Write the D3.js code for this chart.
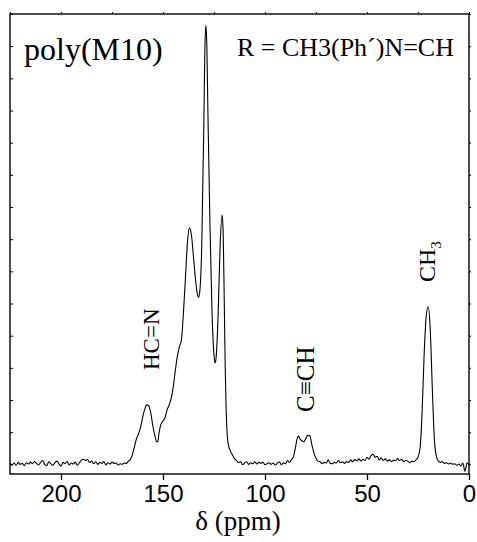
<!DOCTYPE html>
<html>
<head>
<meta charset="utf-8">
<script src="https://d3js.org/d3.v7.min.js"></script>
<style>
  body { margin: 0; background: #fff; }
  .serif { font-family: "Liberation Serif", "Times New Roman", serif; }
  .sans { font-family: "Liberation Sans", Arial, sans-serif; }
</style>
</head>
<body>
<svg id="chart" width="477" height="542"></svg>
<script>
// chemical shift (ppm), high to low
var shift = [
  225,224,223,222,221,220,219,218,217,216,215,214,213,212,211,210,209,208,207,206,
  205,204,203,202,201,200,199,198,197,196,195,194,193,192,191,190,189,188,187,186,
  185,184,183,182,181,180,179,178,177,176,175,174,173,172,171,170,169,168,167,166,
  165,164,163,162,161,160,159,158,157,156,155,154,153,152.5,152,151,150,149,148,147,
  146,145,144,143,142,141,140,139,138,137,136,135,134,133,132.5,132,131,130,129.5,129,
  128.5,128,127,126,125,124.5,124,123,122,121,120.5,120,119.5,119,118.5,118,117,116,115,114,
  113,112,111,110,109,108,107,106,105,104,103,102,101,100,99,98,97,96,95,94,
  93,92,91,90,89,88,87,86,85,84,83.5,83,82,81,80,79,78,77,76,75,
  74,73,72,71,70,69,68,67,66,65,64,63,62,61,60,59,58,57,56,55,
  54,53,52,51,50,49,48,47,46,45,44,43,42,41,40,39,38,37,36,35,
  34,33,32,31,30,29,28,27,26,25,24,23,22,21,20,19,18,17,16,15,
  14,13,12,11,10,9,8,7,6,5,4,3,2,1.5,1,0
];
// intensity (arbitrary units, one unit per y tick)
var intensity = [
  0.05,-0.02,0.04,-0.03,0.06,0.00,0.03,-0.04,0.05,0.01,0.07,0.02,0.09,0.03,-0.02,0.06,0.12,0.00,-0.04,0.08,
  0.02,-0.03,0.05,0.10,0.01,-0.05,0.06,0.02,0.09,-0.02,0.04,0.01,0.07,-0.03,0.05,0.13,0.16,0.12,0.15,0.06,
  0.10,0.02,0.08,0.00,0.06,0.03,0.09,-0.02,0.05,0.01,0.07,0.03,0.04,-0.02,0.02,0.00,0.04,0.03,0.10,0.15,
  0.30,0.55,0.80,0.95,1.15,1.45,1.70,1.85,1.82,1.60,1.20,0.90,0.70,0.72,0.95,1.25,1.35,1.45,1.70,1.85,
  2.05,2.40,2.90,3.35,3.65,3.85,4.70,5.80,6.90,7.35,7.10,6.40,5.70,5.25,5.20,5.35,6.80,10.5,12.8,13.65,
  13.0,11.0,7.5,4.8,3.4,3.15,3.3,4.6,6.8,7.75,7.2,5.2,3.0,1.6,0.9,0.62,0.42,0.30,0.18,0.12,
  0.05,0.09,-0.01,0.04,0.08,0.00,0.05,0.02,0.08,0.01,0.06,0.03,0.07,-0.01,0.02,0.05,0.00,0.04,-0.02,0.03,
  0.08,-0.01,0.05,0.02,0.12,0.06,0.15,0.25,0.55,0.85,0.88,0.80,0.74,0.70,0.80,0.90,0.88,0.60,0.35,0.18,
  0.10,0.08,0.02,0.06,0.04,0.14,0.03,0.02,0.06,0.04,0.12,0.05,0.08,0.03,0.09,0.06,0.14,0.08,0.15,0.11,
  0.17,0.10,0.16,0.12,0.22,0.16,0.27,0.31,0.22,0.25,0.14,0.20,0.12,0.17,0.10,0.14,0.09,0.13,0.11,0.18,
  0.12,0.16,0.08,0.12,0.10,0.05,0.10,0.08,0.14,0.22,0.50,1.6,3.4,4.6,4.9,4.2,2.4,0.8,0.25,0.10,
  0.06,0.08,0.03,0.05,0.01,0.04,0.00,0.02,-0.03,0.01,-0.05,0.04,-0.22,-0.10,0.05,-0.03
];
var xMajor = [200, 150, 100, 50, 0];
var xMinor = [225, 175, 125, 75, 25];
var yTicks = d3.range(0, 15);

var svg = d3.select("#chart");
var pl = 10, pr = 469, pt = 14, pb = 474;

var x = d3.scaleLinear().domain([225, 0]).range([pl, pr]);
var y = d3.scaleLinear().domain([-0.3, 14]).range([pb, pt]);

var data = shift.map(function(s, i) { return [s, intensity[i]]; });

var line = d3.line()
  .x(function(d) { return x(d[0]); })
  .y(function(d) { return y(d[1]); })
  .curve(d3.curveMonotoneX);

svg.append("path")
  .datum(data)
  .attr("d", line)
  .attr("fill", "none")
  .attr("stroke", "#000")
  .attr("stroke-width", 1.1);

// frame
svg.append("rect")
  .attr("x", pl).attr("y", pt)
  .attr("width", pr - pl).attr("height", pb - pt)
  .attr("fill", "none").attr("stroke", "#000").attr("stroke-width", 1.4);

// bottom axis
var bx = svg.append("g").attr("transform", "translate(0," + pb + ")");
bx.call(d3.axisBottom(x).tickValues(xMinor).tickSize(3).tickFormat(""));
bx.call(d3.axisBottom(x).tickValues(xMajor).tickSize(6).tickPadding(5).tickFormat(d3.format("d")));
bx.select(".domain").remove();
bx.selectAll("line").attr("stroke-width", 1.3);
bx.selectAll("text")
  .attr("class", "sans")
  .style("font-size", "24px")
  .attr("fill", "#000");

// top axis
var tx = svg.append("g").attr("transform", "translate(0," + pt + ")");
tx.call(d3.axisTop(x).tickValues(xMajor.concat(xMinor)).tickSize(2).tickFormat(""));
tx.select(".domain").remove();

// left and right axes
var ly = svg.append("g").attr("transform", "translate(" + pl + ",0)");
ly.call(d3.axisRight(y).tickValues(yTicks).tickSize(3).tickFormat(""));
ly.select(".domain").remove();
var ry = svg.append("g").attr("transform", "translate(" + pr + ",0)");
ry.call(d3.axisRight(y).tickValues(yTicks).tickSize(2).tickFormat(""));
ry.select(".domain").remove();

// axis title
svg.append("text")
  .attr("class", "serif")
  .attr("x", 238).attr("y", 530)
  .attr("text-anchor", "middle")
  .style("font-size", "27px")
  .text("δ (ppm)");

// corner labels
svg.append("text")
  .attr("class", "serif")
  .attr("x", 24).attr("y", 60)
  .style("font-size", "32px")
  .text("poly(M10)");

svg.append("text")
  .attr("class", "serif")
  .attr("x", 454).attr("y", 56)
  .attr("text-anchor", "end")
  .style("font-size", "26px")
  .text("R = CH3(Ph´)N=CH");

// peak labels (rotated)
function peakLabel(px, py, txt, size, sub) {
  var t = svg.append("text")
    .attr("class", "serif")
    .attr("transform", "translate(" + px + "," + py + ") rotate(-90)")
    .style("font-size", size + "px")
    .text(txt);
  if (sub) {
    t.append("tspan").attr("dy", 6).style("font-size", "15px").text(sub);
  }
}
peakLabel(159, 370, "HC=N", 23);
peakLabel(314, 412, "C\u2261CH", 25);
peakLabel(435, 282, "CH", 24, "3");
</script>
</body>
</html>
